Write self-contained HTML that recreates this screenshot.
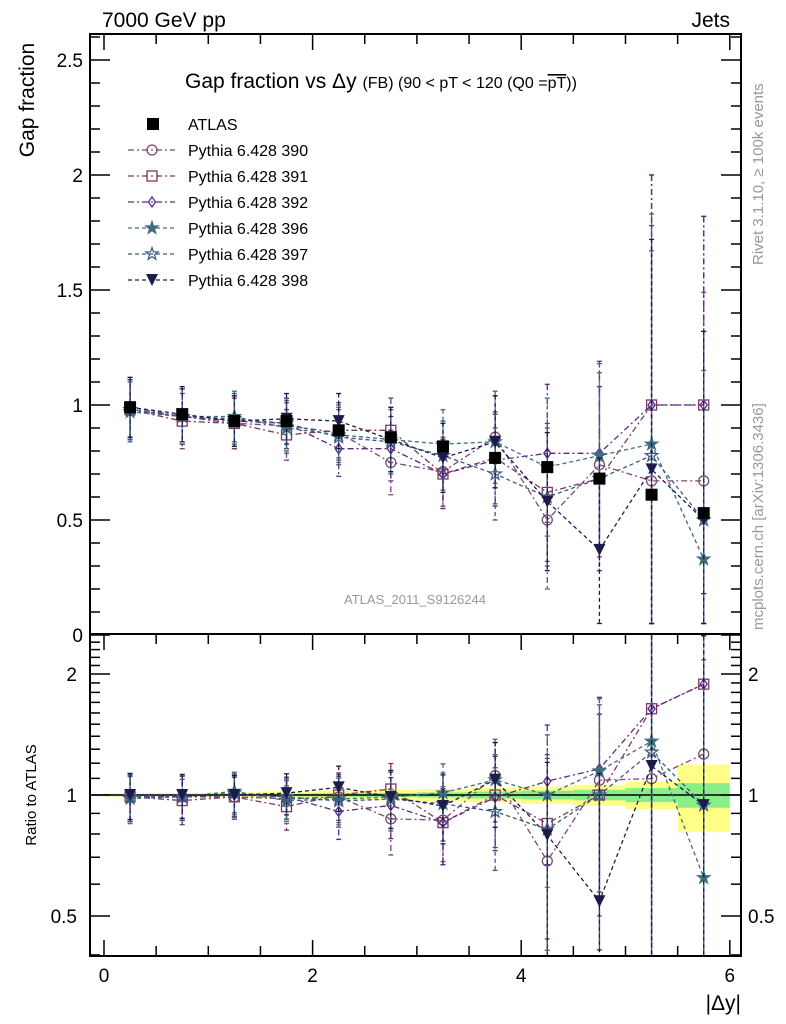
<!DOCTYPE html>
<html><head><meta charset="utf-8"><style>
html,body{margin:0;background:#fff;width:786px;height:1024px;overflow:hidden}
svg{display:block;font-family:"Liberation Sans",sans-serif}
</style></head><body>
<svg id="c" width="786" height="1024" viewBox="0 0 786 1024">
<text x="102" y="27" font-size="21">7000 GeV pp</text>
<text x="730" y="27" font-size="21" text-anchor="end">Jets</text>
<text x="185" y="88" font-size="21">Gap fraction vs Δy <tspan font-size="16">(FB) (90 &lt; pT &lt; 120 (Q0 =<tspan text-decoration="overline">pT</tspan>))</tspan></text>
<text transform="translate(763,265) rotate(-90)" font-size="15" fill="#999">Rivet 3.1.10, ≥ 100k events</text>
<text transform="translate(763,630) rotate(-90)" font-size="15" fill="#999">mcplots.cern.ch [arXiv:1306.3436]</text>
<text x="415" y="604" font-size="13" fill="#999" text-anchor="middle">ATLAS_2011_S9126244</text>
<text transform="translate(34,100) rotate(-90)" font-size="21" text-anchor="middle">Gap fraction</text>
<text transform="translate(36,795) rotate(-90)" font-size="15" text-anchor="middle">Ratio to ATLAS</text>
<text x="741" y="1010" font-size="21" text-anchor="end">|Δy|</text>
<g id="g"></g>
</svg>
<script>
const xBins=[0.25,0.75,1.25,1.75,2.25,2.75,3.25,3.75,4.25,4.75,5.25,5.75];
const atlasVals=[0.99,0.96,0.93,0.93,0.89,0.86,0.82,0.77,0.73,0.68,0.61,0.53];
const bandStat=[0.005,0.005,0.007,0.008,0.01,0.012,0.015,0.02,0.025,0.03,0.04,0.07];
const bandTot=[0.01,0.012,0.015,0.02,0.025,0.03,0.035,0.04,0.05,0.06,0.08,0.19];
const labels=["Pythia 6.428 390","Pythia 6.428 391","Pythia 6.428 392","Pythia 6.428 396","Pythia 6.428 397","Pythia 6.428 398"];
const s390=[0.99,0.95,0.92,0.91,0.88,0.75,0.71,0.86,0.50,0.74,0.67,0.67];
const s391=[0.98,0.93,0.92,0.87,0.89,0.89,0.70,0.77,0.62,0.68,1.00,1.00];
const s392=[0.98,0.95,0.93,0.92,0.81,0.81,0.70,0.76,0.79,0.79,1.00,1.00];
const s396=[0.97,0.95,0.95,0.90,0.87,0.85,0.83,0.84,0.73,0.78,0.83,0.33];
const s397=[0.98,0.95,0.94,0.92,0.86,0.84,0.78,0.70,0.60,0.68,0.78,0.50];
const s398=[0.99,0.96,0.93,0.94,0.93,0.85,0.77,0.84,0.58,0.37,0.72,0.50];
const errs=[0.13,0.12,0.11,0.11,0.12,0.14,0.15,0.2,0.3,0.4,1.0,0.82];
const series=[s390,s391,s392,s396,s397,s398];
const colors=["#7a4a70","#7a3a5e","#5a2a8a","#3f6f7e","#3a5a80","#1c1c4c"];
const dashes=["6,3,2,3","6,3,2,3","6,3,2,3","4,3","4,3","4,3"];
const markers=["circle","square","diamond","starf","star","tri"];
const NS="http://www.w3.org/2000/svg";
const g=document.getElementById('g');
const X=v=>104+v*104.3;
const L=90,R=741,T=34,MB=634,B=956;
const Y=v=>635-v*230;
const RY=v=>795-Math.log2(v)*121;
function el(t,a,p){const e=document.createElementNS(NS,t);for(const k in a)e.setAttribute(k,a[k]);(p||g).appendChild(e);return e;}
const defs=el('defs',{});
const c1=el('clipPath',{id:'cm'},defs);el('rect',{x:L,y:T,width:R-L,height:MB-T},c1);
const c2=el('clipPath',{id:'cr'},defs);el('rect',{x:L,y:MB,width:R-L,height:B-MB},c2);
const gm=el('g',{'clip-path':'url(#cm)'});
const gr=el('g',{'clip-path':'url(#cr)'});
xBins.forEach((x,i)=>{
 const r1=el('rect',{x:X(x-0.25),y:RY(1+bandTot[i]),width:X(0.5)-X(0),height:RY(1-bandTot[i])-RY(1+bandTot[i]),fill:'#ffff88'},gr);
 
 const r2=el('rect',{x:X(x-0.25),y:RY(1+bandStat[i]),width:X(0.5)-X(0),height:RY(1-bandStat[i])-RY(1+bandStat[i]),fill:'#88ee88'},gr);
 
});
el('line',{x1:L,x2:R,y1:RY(1),y2:RY(1),stroke:'#000','stroke-width':1.5},gr);
function marker(p,type,x,y,col,s){
 let e;
 if(type==='circle')e=el('circle',{cx:x,cy:y,r:5,fill:'none',stroke:col,'stroke-width':1.3},p);
 else if(type==='square')e=el('rect',{x:x-5,y:y-5,width:10,height:10,fill:'none',stroke:col,'stroke-width':1.3},p);
 else if(type==='fsquare')e=el('rect',{x:x-6,y:y-6,width:12,height:12,fill:col},p);
 else if(type==='diamond')e=el('path',{d:`M${x},${y-5}L${x+3.5},${y}L${x},${y+5}L${x-3.5},${y}Z`,fill:'none',stroke:col,'stroke-width':1.3},p);
 else if(type==='tri')e=el('path',{d:`M${x-6},${y-6}L${x+6},${y-6}L${x},${y+6}Z`,fill:col},p);
 else{let d='';for(let k=0;k<10;k++){const a=-Math.PI/2+k*Math.PI/5,r=k%2?2.6:6.5;d+=(k?'L':'M')+(x+r*Math.cos(a)).toFixed(1)+','+(y+r*Math.sin(a)).toFixed(1);}
  e=el('path',{d:d+'Z',fill:type==='starf'?col:'none',stroke:col,'stroke-width':1.2},p);}
 
}
series.forEach((s,si)=>{
 const col=colors[si];
 [[gm,v=>Y(v),s.map(v=>v)],[gr,v=>RY(v),s.map((v,i)=>v/atlasVals[i])]].forEach(([p,fy,vals],pi)=>{
  const d=vals.map((v,i)=>(i?'L':'M')+X(xBins[i])+','+fy(v)).join('');
  const ln=el('path',{d,fill:'none',stroke:col,'stroke-width':1.3,'stroke-dasharray':dashes[si]},p);
  
  vals.forEach((v,i)=>{
   const e=pi?errs[i]/atlasVals[i]:errs[i];
   const lo=Math.max(v-e,0.05);
   el('line',{x1:X(xBins[i]),x2:X(xBins[i]),y1:fy(v+e),y2:fy(lo),stroke:col,'stroke-width':1.3,'stroke-dasharray':dashes[si]},p);
   el('line',{x1:X(xBins[i])-2.5,x2:X(xBins[i])+2.5,y1:fy(v+e),y2:fy(v+e),stroke:col,'stroke-width':1.3},p);
   el('line',{x1:X(xBins[i])-2.5,x2:X(xBins[i])+2.5,y1:fy(lo),y2:fy(lo),stroke:col,'stroke-width':1.3},p);
   marker(p,markers[si],X(xBins[i]),fy(v),col,'point-'+labels[si].slice(-3));
  });
 });
});
atlasVals.forEach((v,i)=>{
 el('line',{x1:X(xBins[i]),x2:X(xBins[i]),y1:Y(v+0.01),y2:Y(v-0.01),stroke:'#000'},gm);
 marker(gm,'fsquare',X(xBins[i]),Y(v),'#000','atlas-point');
});
const f1=el('rect',{x:L,y:T,width:R-L,height:MB-T,fill:'none',stroke:'#000','stroke-width':2});

const f2=el('rect',{x:L,y:MB,width:R-L,height:B-MB,fill:'none',stroke:'#000','stroke-width':2});

for(let v=0;v<=6.01;v+=0.5){const maj=Math.abs(v%1)<1e-6&&Math.round(v)%2===0;const h=maj?16:10;
 [[T,1],[MB,1],[B,-1]].forEach(([y0,dir])=>el('line',{x1:X(v),x2:X(v),y1:y0,y2:y0+dir*h,stroke:'#000','stroke-width':1.5}));
}
[0,2,4,6].forEach(v=>{const t=el('text',{x:X(v),y:982,'font-size':19,'text-anchor':'middle'});t.textContent=v;
 });
for(let k=0;k<=26;k++){const v=k*0.1,y=Y(v);if(y<T)continue;const maj=k%5===0;const h=maj?20:10;
 el('line',{x1:L,x2:L+h,y1:y,y2:y,stroke:'#000','stroke-width':1.5});el('line',{x1:R,x2:R-h,y1:y,y2:y,stroke:'#000','stroke-width':1.5});
 if(maj){const t=el('text',{x:83,y:y+7,'font-size':19,'text-anchor':'end'});t.textContent=k===0?'0':k%10===0?String(k/10):(k/10).toFixed(1);
  }}
const rt=[0.4,0.5,0.6,0.7,0.8,0.9,1,1.1,1.2,1.3,1.4,1.5,1.6,1.7,1.8,1.9,2,2.1,2.2,2.3,2.4];
rt.forEach(v=>{const y=RY(v);if(y<MB||y>B)return;const maj=[0.5,1,2].includes(v);const h=maj?20:10;
 el('line',{x1:L,x2:L+h,y1:y,y2:y,stroke:'#000','stroke-width':1.5});el('line',{x1:R,x2:R-h,y1:y,y2:y,stroke:'#000','stroke-width':1.5});
 if(maj){const t=el('text',{x:77,y:y+7,'font-size':19,'text-anchor':'end'});t.textContent=v;
  
  const t2=el('text',{x:748,y:y+7,'font-size':19});t2.textContent=v;
  }});
const lg=el('g',{});
marker(lg,'fsquare',153,124,'#000','legend-marker-atlas');
let t=el('text',{x:188,y:130,'font-size':16},lg);t.textContent='ATLAS';

labels.forEach((lb,i)=>{const y=150+i*26;
 el('line',{x1:128,x2:175,y1:y,y2:y,stroke:colors[i],'stroke-width':1.2,'stroke-dasharray':dashes[i]},lg);
 marker(lg,markers[i],152,y,colors[i],'legend-marker');
 const tt=el('text',{x:188,y:y+6,'font-size':16},lg);tt.textContent=lb;
 });
</script>
</body></html>
